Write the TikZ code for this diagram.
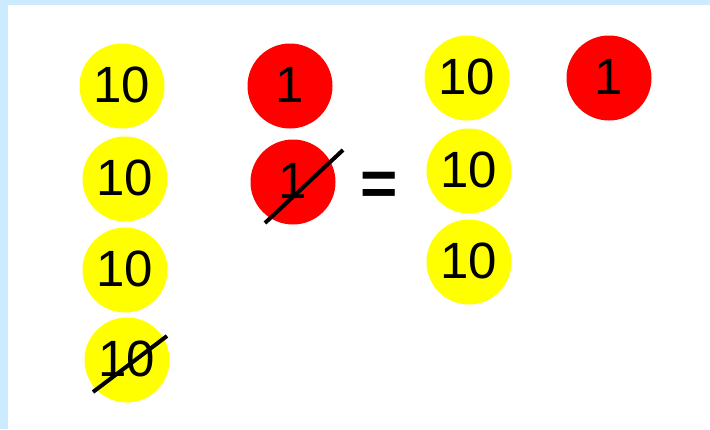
\documentclass[tikz,border=0pt]{standalone}
\usepackage{fontspec}
\setmainfont{Liberation Sans}
\definecolor{bordblue}{HTML}{CCEBFF}
\definecolor{ylw}{HTML}{FFFF00}
\definecolor{rd}{HTML}{FF0000}
\tikzset{
  chip/.style={circle, minimum size=85pt, inner sep=0pt,
    font=\fontsize{51}{51}\selectfont, text depth=3pt},
  tenchip/.style={chip, fill=ylw},
  onechip/.style={chip, fill=rd},
  strike/.style={line width=4pt, black},
  eqsign/.style={inner sep=0pt, font=\bfseries\fontsize{64}{64}\selectfont}
}
\begin{document}
\begin{tikzpicture}[x=1pt,y=-1pt]
\useasboundingbox (0,0) rectangle (710,429);
\fill[bordblue] (0,0) rectangle (710,429);
\fill[white] (8,5) rectangle (710,429);
% left column of tens
\node[tenchip] (t1) at (122,86) {10};
\node[tenchip] (t2) at (125,179) {10};
\node[tenchip] (t3) at (125,270) {10};
\node[tenchip] (t4) at (127,360) {10};
% ones
\node[onechip] (o1) at (290,86) {1};
\node[onechip] (o2) at (293,182) {1};
% equals
\node[eqsign] (eq) at (379.5,188.5) {=};
% right side
\node[tenchip] (r1) at (467,78) {10};
\node[tenchip] (r2) at (469,171) {10};
\node[tenchip] (r3) at (469,262) {10};
\node[onechip] (r4) at (609,78) {1};
% strike-throughs
\coordinate (s1a) at (93,392);
\coordinate (s1b) at (167,336);
\draw[strike] (s1a) -- (s1b);
\coordinate (s2a) at (265,223);
\coordinate (s2b) at (343,150);
\draw[strike] (s2a) -- (s2b);
\end{tikzpicture}
\end{document}
